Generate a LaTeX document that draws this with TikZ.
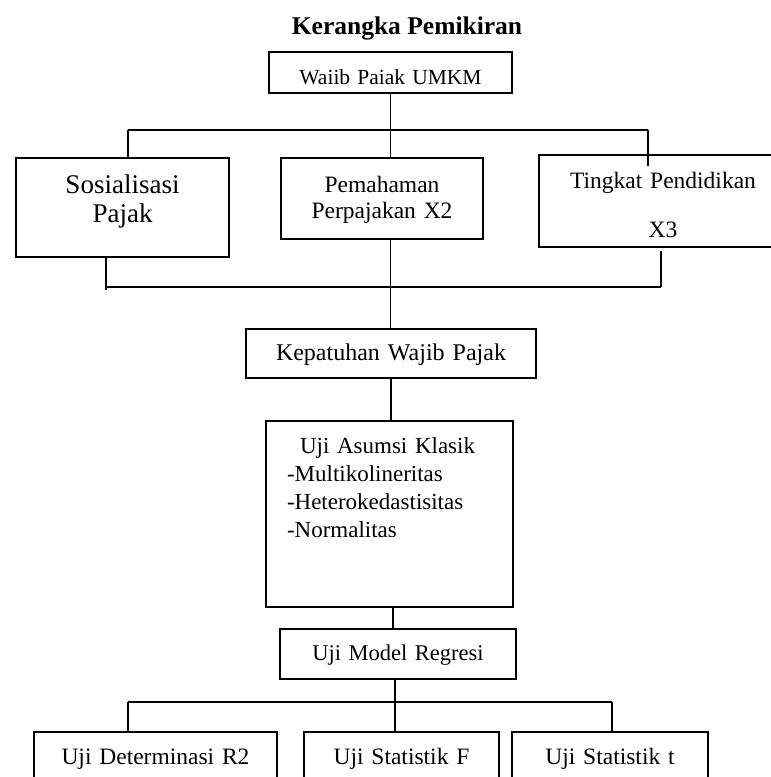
\documentclass[tikz,border=0pt]{standalone}
\usepackage{fontspec}
\setmainfont{Liberation Serif}
\begin{document}
\begin{tikzpicture}[x=1pt,y=-1pt,
  box/.style={draw, line width=1.8pt, inner sep=0pt, align=center},
  conn/.style={line width=1.6pt},
  fA/.style={font=\fontsize{23.5}{26}\selectfont}]
\useasboundingbox (0,0) rectangle (771,777);
\clip (0,0) rectangle (771,777);
\fill[white] (0,0) rectangle (771,777);

\node[anchor=base, font=\fontsize{25.5}{30}\selectfont\bfseries] (title) at (407,34) {Kerangka Pemikiran};

\node[box, minimum width=243pt, text width=243pt, text height=32pt, text depth=9pt,
      font=\fontsize{21.5}{24}\selectfont] (waiib) at (390.5,72.5) {Waiib Paiak UMKM};

\node[box, minimum width=213pt, text width=213pt, text height=35pt, text depth=64pt,
      font=\fontsize{27}{29}\selectfont] (sos) at (122.5,207.5) {Sosialisasi\\Pajak};

\node[box, minimum width=202pt, text width=202pt, text height=34pt, text depth=47pt,
      font=\fontsize{23.5}{26}\selectfont] (pem) at (382,198.5) {Pemahaman\\Perpajakan X2};

\node[box, minimum width=248pt, text width=248pt, text height=33pt, text depth=59pt,
      font=\fontsize{23.5}{26}\selectfont] (ting) at (663,201) {Tingkat Pendidikan\\[23pt]X3};

\node[box, minimum width=290pt, text width=290pt, text height=31pt, text depth=18pt,
      font=\fontsize{24}{28}\selectfont] (kep) at (391,353.5) {Kepatuhan Wajib Pajak};

\node[box, align=left, minimum width=247pt, text width=205pt, text height=32pt, text depth=154pt,
      font=\fontsize{23}{28}\selectfont] (asumsi) at (389.5,514)
      {\hspace*{13pt}Uji Asumsi Klasik\\-Multikolineritas\\-Heterokedastisitas\\-Normalitas};

\node[box, minimum width=236pt, text width=236pt, text height=31pt, text depth=19pt,
      font=\fontsize{22.5}{26}\selectfont] (model) at (398,654) {Uji Model Regresi};

\node[box, minimum width=243pt, text width=243pt, text height=32pt, text depth=36pt,
      fA] (det) at (155.5,766) {Uji Determinasi R2};
\node[box, minimum width=195pt, text width=195pt, text height=32pt, text depth=36pt,
      fA] (stF) at (401.5,766) {Uji Statistik F};
\node[box, minimum width=196pt, text width=196pt, text height=32pt, text depth=36pt,
      fA] (stt) at (610,766) {Uji Statistik t};

% top connectors
\coordinate (tl) at (128,130);
\coordinate (tr) at (648,130);
\coordinate (trend) at (648,166);
\draw[conn] (waiib.south) -- (waiib.south |- pem.north);
\draw[conn] (tl) -- (tr);
\draw[conn] (tl) -- ([yshift=-1pt]tl |- sos.north);
\draw[conn] (tr) -- (trend);

% middle bar
\coordinate (mbl) at (106,287);
\coordinate (mbr) at (661,287);
\coordinate (mld) at (106,290);
\draw[conn, line width=1.8pt] (mbl) -- (mbr);
\draw[conn] (sos.south -| mld) -- (mld);
\draw[conn] ([yshift=-3pt]ting.south -| mbr) -- (mbr);
\draw[conn] (waiib.south |- pem.south) -- (waiib.south |- kep.north);

% lower chain
\draw[conn] (kep.south) -- (kep.south |- asumsi.north);
\draw[conn] ([xshift=3.5pt]asumsi.south) -- ([xshift=3.5pt]asumsi.south |- model.north);

% bottom bar
\coordinate (bl) at (128,702);
\coordinate (br) at (612,702);
\draw[conn] ([xshift=-3pt]model.south) -- ([xshift=-3pt]model.south |- stF.north);
\draw[conn] (bl) -- (br);
\draw[conn] (bl) -- (bl |- det.north);
\draw[conn] (br) -- (br |- stt.north);
\end{tikzpicture}
\end{document}
